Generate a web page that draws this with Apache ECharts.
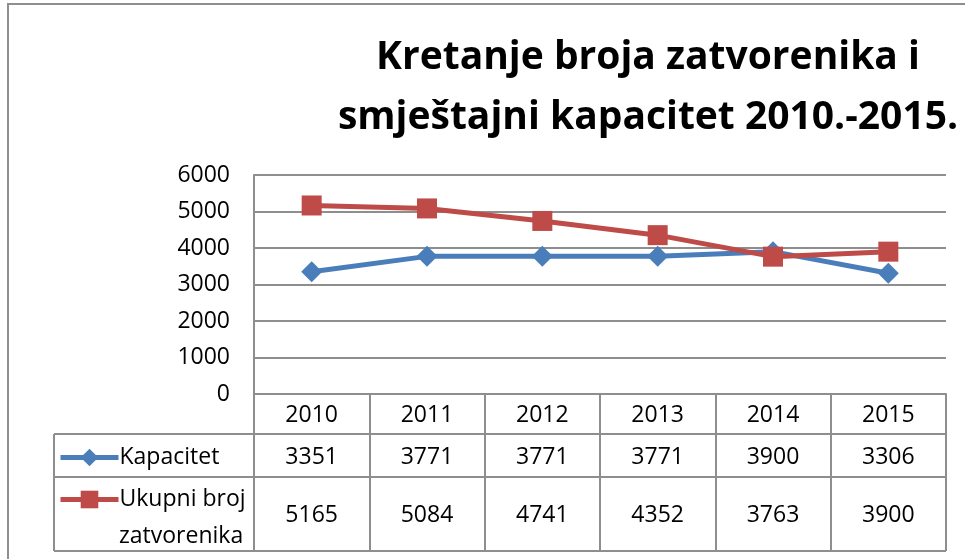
<!DOCTYPE html>
<html>
<head>
<meta charset="utf-8">
<script src="https://cdn.jsdelivr.net/npm/echarts@6/dist/echarts.min.js"></script>
<style>
  html, body { margin: 0; padding: 0; background: #fff; }
  #main { width: 965px; height: 559px; }
</style>
</head>
<body>
<div id="main"></div>
<script>
// podaci
var godine = ['2010', '2011', '2012', '2013', '2014', '2015'];
var kapacitet = [3351, 3771, 3771, 3771, 3900, 3306];
var zatvorenici = [5165, 5084, 4741, 4352, 3763, 3900];
var yTicks = [0, 1000, 2000, 3000, 4000, 5000, 6000];

var FONT = '"Open Sans"';
var FS = 23;
var GRID_LEFT = 254, GRID_RIGHT = 19, GRID_TOP = 175, GRID_BOTTOM = 165;
var TABLE_LEFT = 54;
var lineGray = '#8e8e8e';

var myChart = echarts.init(document.getElementById('main'));

// osi tablice podataka (redovi ispod osi x)
function tableAxis(values, offset) {
	return {
		type: 'category',
		data: godine,
		position: 'bottom',
		offset: offset,
		axisLine: { show: false },
		axisTick: { show: false },
		axisLabel: {
			margin: 10,
			fontFamily: FONT,
			fontSize: FS,
			color: '#000',
			interval: 0,
			formatter: function(val, idx) { return String(values[idx]); }
		}
	};
}

var legendCommon = {
	left: 58,
	padding: 0,
	itemWidth: 58,
	itemHeight: 22,
	lineStyle: { width: 5 },
	textStyle: { fontFamily: FONT, fontSize: FS, color: '#000', padding: [0, 0, 0, -4] }
};

var option = {
	animation: false,
	title: {
		text: 'Kretanje broja zatvorenika i\nsmještajni kapacitet 2010.-2015.',
		left: 648,
		top: 28,
		padding: 0,
		textAlign: 'center',
		textStyle: {
			fontFamily: FONT,
			fontWeight: 'bold',
			fontSize: 39,
			lineHeight: 60,
			color: '#000'
		}
	},
	legend: [
		echarts.util.extend({ data: ['Kapacitet'], top: 446 }, legendCommon),
		echarts.util.extend({
			data: ['Ukupni broj zatvorenika'],
			top: 488,
			formatter: function() { return 'Ukupni broj'; }
		}, legendCommon)
	],
	grid: {
		left: GRID_LEFT,
		right: GRID_RIGHT,
		top: GRID_TOP,
		bottom: GRID_BOTTOM
	},
	xAxis: [{
		type: 'category',
		data: godine,
		boundaryGap: true,
		axisLine: { lineStyle: { color: lineGray, width: 2 } },
		axisTick: {
			show: true,
			interval: 0,
			length: 157,
			lineStyle: { color: lineGray, width: 2 }
		},
		axisLabel: {
			margin: 10,
			fontFamily: FONT,
			fontSize: FS,
			color: '#000',
			interval: 0
		}
	},
	tableAxis(kapacitet, 42),
	tableAxis(zatvorenici, 100)
	],
	yAxis: {
		type: 'value',
		min: yTicks[0],
		max: yTicks[yTicks.length - 1],
		interval: 1000,
		axisLine: { show: true, lineStyle: { color: lineGray, width: 2 } },
		axisTick: { show: false },
		splitLine: { lineStyle: { color: lineGray, width: 2 } },
		axisLabel: {
			margin: 24,
			fontFamily: FONT,
			fontSize: FS,
			color: '#000',
			formatter: function(v) { return String(v); }
		}
	},
	series: [{
		name: 'Kapacitet',
		type: 'line',
		data: kapacitet,
		symbol: 'diamond',
		symbolSize: 21,
		lineStyle: { color: '#4a7ebb', width: 5 },
		itemStyle: { color: '#4a7ebb' }
	}, {
		name: 'Ukupni broj zatvorenika',
		type: 'line',
		data: zatvorenici,
		symbol: 'rect',
		symbolSize: 20,
		lineStyle: { color: '#be4b48', width: 5 },
		itemStyle: { color: '#be4b48' }
	}],
	graphic: [
		// vanjski okvir
		{ type: 'rect', shape: { x: 8, y: 4, width: 1000, height: 600 }, style: { fill: 'none', stroke: lineGray, lineWidth: 2 }, silent: true },
		// vodoravne linije tablice
		{ type: 'line', shape: { x1: TABLE_LEFT, y1: 434, x2: 946, y2: 434 }, style: { stroke: lineGray, lineWidth: 2 } },
		{ type: 'line', shape: { x1: TABLE_LEFT, y1: 477, x2: 946, y2: 477 }, style: { stroke: lineGray, lineWidth: 2 } },
		{ type: 'line', shape: { x1: TABLE_LEFT, y1: 551, x2: 946, y2: 551 }, style: { stroke: lineGray, lineWidth: 2 } },
		{ type: 'line', shape: { x1: TABLE_LEFT, y1: 434, x2: TABLE_LEFT, y2: 551 }, style: { stroke: lineGray, lineWidth: 2 } },
		{ type: 'text', left: 119, top: 525, style: { text: 'zatvorenika', font: FS + 'px ' + FONT, fill: '#000' } }
	]
};

myChart.setOption(option);
</script>
</body>
</html>
